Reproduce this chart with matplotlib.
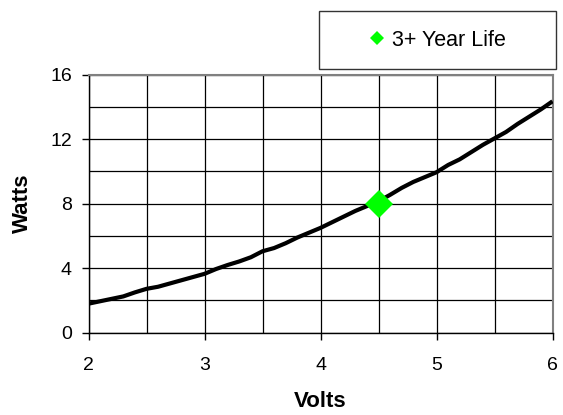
import matplotlib
matplotlib.use("Agg")
import matplotlib.pyplot as plt
from matplotlib.patches import Rectangle
from matplotlib.lines import Line2D

plt.rcParams['font.family'] = ['Liberation Sans', 'DejaVu Sans']

volts = [2.0, 2.1, 2.2, 2.3, 2.4, 2.5, 2.6, 2.7, 2.8, 2.9, 3.0,
         3.1, 3.2, 3.3, 3.4, 3.5, 3.6, 3.7, 3.8, 3.9, 4.0,
         4.1, 4.2, 4.3, 4.4, 4.5, 4.6, 4.7, 4.8, 4.9, 5.0,
         5.1, 5.2, 5.3, 5.4, 5.5, 5.6, 5.7, 5.8, 5.9, 6.0]
watts = [1.8, 1.95, 2.1, 2.25, 2.5, 2.72, 2.85, 3.05, 3.25, 3.45, 3.65,
         3.95, 4.2, 4.42, 4.68, 5.05, 5.25, 5.55, 5.9, 6.2, 6.5,
         6.85, 7.2, 7.55, 7.85, 8.15, 8.55, 8.98, 9.35, 9.65, 9.95,
         10.4, 10.75, 11.2, 11.65, 12.05, 12.45, 12.95, 13.4, 13.85, 14.35]
life_volts = [4.5]
life_watts = [8.0]
life_label = "3+ Year Life"
x_ticks = [2, 3, 4, 5, 6]
y_ticks = [0, 4, 8, 12, 16]
x_minor = [2.5, 3.5, 4.5, 5.5]
y_minor = [2, 6, 10, 14]

fig = plt.figure(figsize=(5.63, 4.15), dpi=100)
ax = fig.add_axes([88.5 / 563, (415 - 332.7) / 415, (552.5 - 88.5) / 563, (332.7 - 74.7) / 415])

ax.plot(volts, watts, color='black', lw=3.0, zorder=3, solid_capstyle='butt')
ax.plot(life_volts, life_watts, linestyle='none', marker='D', markersize=14.5,
        color='#00FF00', markeredgewidth=0, zorder=4)

ax.set_xlim(2, 6)
ax.set_ylim(0, 16)
ax.set_xticks(x_ticks)
ax.set_yticks(y_ticks)
ax.set_xticks(x_minor, minor=True)
ax.set_yticks(y_minor, minor=True)
ax.grid(True, which='both', color='black', lw=0.9)
ax.set_axisbelow(True)
ax.tick_params(which='major', direction='out', length=5, width=1, labelsize=14, color='black')
ax.tick_params(axis='y', which='major', pad=7)
ax.tick_params(axis='x', which='major', pad=12.5)
ax.tick_params(which='minor', length=0)

for s in ['left', 'bottom']:
    ax.spines[s].set_color('black')
    ax.spines[s].set_linewidth(1)
for s in ['top', 'right']:
    ax.spines[s].set_color('#808080')
    ax.spines[s].set_linewidth(1.5)

ax.set_xlabel('Volts', fontsize=16, fontweight='bold', labelpad=12)
ax.set_ylabel('Watts', fontsize=16, fontweight='bold', labelpad=12)

# legend box
bx0, bx1, by0, by1 = 319, 556, 11, 69
fig.patches.append(Rectangle((bx0 / 563, 1 - by1 / 415), (bx1 - bx0) / 563, (by1 - by0) / 415,
                             transform=fig.transFigure, fill=False, edgecolor='#333333', lw=1.0))
handle = Line2D([], [], linestyle='none', marker='D', markersize=7.5, color='#00FF00', markeredgewidth=0)
fig.legend([handle], [life_label], loc='center', frameon=False, fontsize=15.5,
           bbox_to_anchor=((bx0 + bx1) / 2 / 563, 1 - (by0 + by1) / 2 / 415),
           handlelength=0.8, handletextpad=0.3, borderpad=0)

fig.savefig('out.png', dpi=100)
